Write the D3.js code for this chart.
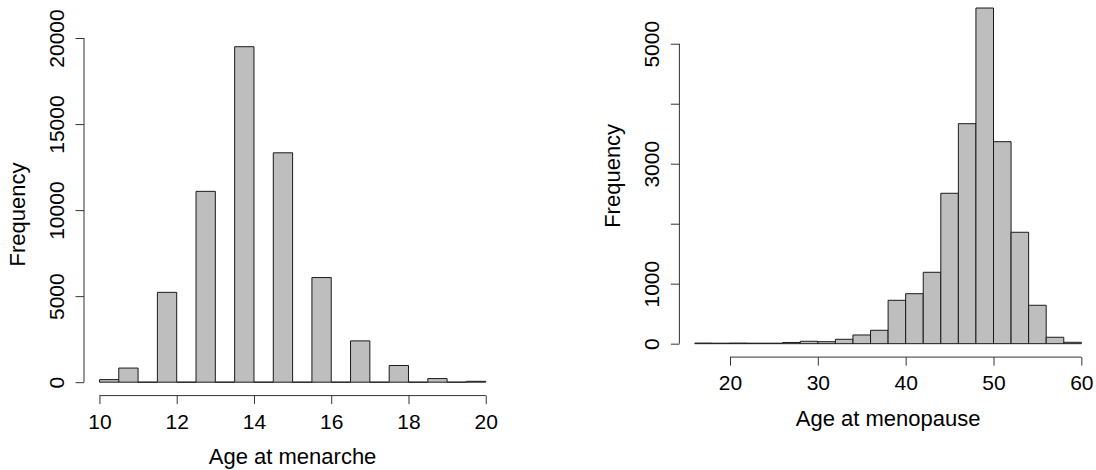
<!DOCTYPE html>
<html>
<head>
<meta charset="utf-8">
<script src="https://cdn.jsdelivr.net/npm/d3@7"></script>
<style>
  body { margin: 0; background: #fff; }
  svg { display: block; font-family: "Liberation Sans", Arial, Helvetica, sans-serif; }
</style>
</head>
<body>
<script>
// age at menarche: half-year bins 10..20
var menarcheBreaks = [10, 10.5, 11, 11.5, 12, 12.5, 13, 13.5, 14, 14.5, 15, 15.5, 16, 16.5, 17, 17.5, 18, 18.5, 19, 19.5, 20];
var menarcheCounts = [150, 820, 0, 5220, 0, 11090, 0, 19495, 0, 13330, 0, 6080, 0, 2400, 0, 970, 0, 210, 0, 50];
var menarcheTicksX = [10, 12, 14, 16, 18, 20];
var menarcheTicksY = [0, 5000, 10000, 15000, 20000];
var menarcheLabelsY = ["0", "5000", "10000", "15000", "20000"];

// age at menopause: 2-year bins 16..60
var menopauseBreaks = [16, 18, 20, 22, 24, 26, 28, 30, 32, 34, 36, 38, 40, 42, 44, 46, 48, 50, 52, 54, 56, 58, 60];
var menopauseCounts = [10, 8, 10, 8, 8, 20, 40, 33, 73, 145, 223, 723, 833, 1190, 2507, 3667, 5595, 3367, 1857, 640, 107, 23];
var menopauseTicksX = [20, 30, 40, 50, 60];
var menopauseTicksY = [0, 1000, 2000, 3000, 4000, 5000];
var menopauseLabelsY = ["0", "1000", "", "3000", "", "5000"];

var width = 1096, height = 470;

var svg = d3.select("body").append("svg")
  .attr("width", width)
  .attr("height", height);

function histogramme(cfg) {
  var lo = cfg.breaks[0], hi = cfg.breaks[cfg.breaks.length - 1];
  var padX = (hi - lo) * 0.04;
  var maxC = d3.max(cfg.counts);

  var x = d3.scaleLinear()
    .domain([lo - padX, hi + padX])
    .range([cfg.box.left, cfg.box.right]);
  var y = d3.scaleLinear()
    .domain([-maxC * 0.04, maxC * 1.04])
    .range([cfg.box.bottom, cfg.box.top]);

  var bins = cfg.counts.map(function(c, i) {
    return { x0: cfg.breaks[i], x1: cfg.breaks[i + 1], n: c };
  });

  // paths instead of rects so empty bins still show as a line
  svg.append("g").selectAll("path")
    .data(bins)
    .enter().append("path")
    .attr("d", function(d) {
      return "M" + x(d.x0) + "," + y(0) + "V" + y(d.n) + "H" + x(d.x1) + "V" + y(0) + "Z";
    })
    .attr("fill", "#bebebe")
    .attr("stroke", "#1a1a1a")
    .attr("stroke-width", 1);

  // x axis (R style: line only between first and last tick)
  var gx = svg.append("g")
    .attr("transform", "translate(0," + cfg.box.bottom + ")")
    .call(d3.axisBottom(x).tickValues(cfg.ticksX).tickSize(8.5).tickFormat(d3.format("d")));
  gx.select(".domain").remove();
  gx.append("line")
    .attr("x1", x(cfg.ticksX[0]))
    .attr("x2", x(cfg.ticksX[cfg.ticksX.length - 1]))
    .attr("stroke", "#333");
  gx.selectAll(".tick line").attr("stroke", "#333");
  gx.selectAll("text")
    .attr("y", 33).attr("dy", 0)
    .attr("fill", "#000")
    .style("font-size", "21px")
    .style("font-family", "'Liberation Sans', Arial, sans-serif");

  // y axis, rotated labels
  var gy = svg.append("g")
    .attr("transform", "translate(" + cfg.box.left + ",0)")
    .call(d3.axisLeft(y).tickValues(cfg.ticksY).tickSize(8.5)
      .tickFormat(function(d, i) { return cfg.labelsY[i]; }));
  gy.select(".domain").remove();
  gy.append("line")
    .attr("y1", y(cfg.ticksY[0]))
    .attr("y2", y(cfg.ticksY[cfg.ticksY.length - 1]))
    .attr("stroke", "#333");
  gy.selectAll(".tick line").attr("stroke", "#333");
  gy.selectAll("text")
    .attr("transform", "rotate(-90)")
    .attr("x", 0).attr("y", -20).attr("dy", 0)
    .attr("text-anchor", "middle")
    .attr("fill", "#000")
    .style("font-size", "21px")
    .style("font-family", "'Liberation Sans', Arial, sans-serif");

  // titres
  svg.append("text")
    .attr("x", (cfg.box.left + cfg.box.right) / 2)
    .attr("y", cfg.box.bottom + 68.5)
    .attr("text-anchor", "middle")
    .style("font-size", "22px")
    .text(cfg.xTitle);

  svg.append("text")
    .attr("transform", "translate(" + (cfg.box.left - 59) + "," + ((cfg.box.top + cfg.box.bottom) / 2) + ") rotate(-90)")
    .attr("text-anchor", "middle")
    .style("font-size", "22px")
    .text("Frequency");
}

histogramme({
  breaks: menarcheBreaks,
  counts: menarcheCounts,
  ticksX: menarcheTicksX,
  ticksY: menarcheTicksY,
  labelsY: menarcheLabelsY,
  xTitle: "Age at menarche",
  box: { left: 84, right: 501.2, top: 33.3, bottom: 395.6 }
});

histogramme({
  breaks: menopauseBreaks,
  counts: menopauseCounts,
  ticksX: menopauseTicksX,
  ticksY: menopauseTicksY,
  labelsY: menopauseLabelsY,
  xTitle: "Age at menopause",
  box: { left: 679.4, right: 1096.8, top: -5.4, bottom: 357.1 }
});
</script>
</body>
</html>
